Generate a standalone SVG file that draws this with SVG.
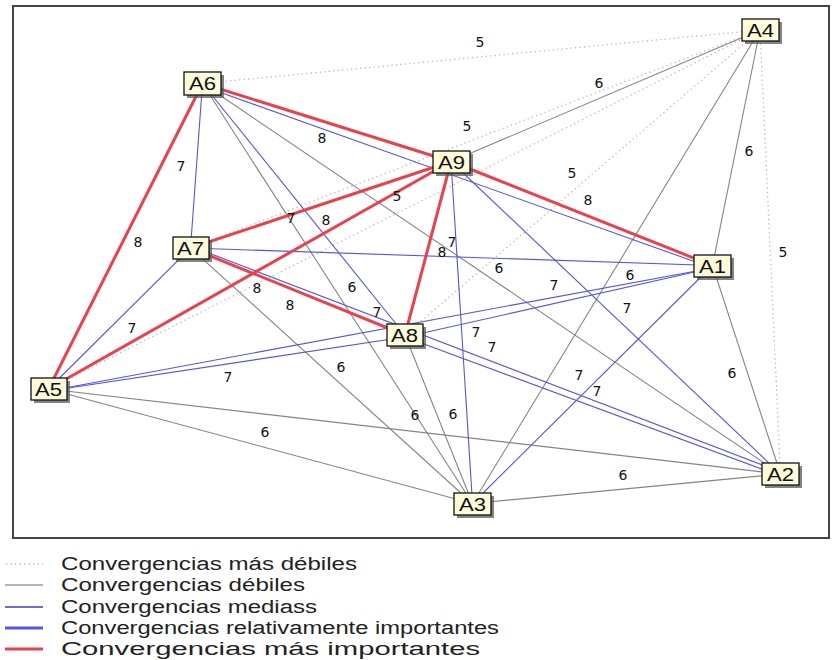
<svg xmlns="http://www.w3.org/2000/svg" width="837" height="660" viewBox="0 0 837 660">
<style>
.d{stroke:#b8b8b8;stroke-width:1.3;stroke-dasharray:1.3 3.2;fill:none}
.g{stroke:#858585;stroke-width:1.1;fill:none}
.b{stroke:#5555e0;stroke-width:1.1;fill:none}
.bb{stroke:#5555e0;stroke-width:2.6;fill:none}
.r{stroke:#e8424c;stroke-width:3;fill:none}
.lbl{font-family:"DejaVu Sans",sans-serif;font-size:14px;fill:#111;text-anchor:middle}
.box{fill:#fdfbd9;stroke:#111;stroke-width:1.3}
.sh{fill:#5a5a5a;opacity:0.75}
.nt{font-family:"Liberation Sans",Arial,sans-serif;font-size:18px;fill:#111}
.lg{font-family:"Liberation Sans",Arial,sans-serif;font-size:18px;fill:#222}
</style>
<rect x="0" y="0" width="837" height="660" fill="#ffffff"/>
<rect x="13" y="6" width="816" height="532" fill="#ffffff" stroke="#444" stroke-width="2"/>
<g id="connectors">
<!-- dotted (5) -->
<line class="d" x1="760" y1="30" x2="202.5" y2="83.5"/>
<line class="d" x1="760" y1="30" x2="190.5" y2="248"/>
<line class="d" x1="760" y1="30" x2="48.5" y2="389"/>
<line class="d" x1="760" y1="30" x2="405" y2="335"/>
<line class="d" x1="760" y1="30" x2="780.5" y2="474"/>
<!-- gray (6) -->
<line class="g" x1="760" y1="30" x2="451" y2="161.5"/>
<line class="g" x1="760" y1="30" x2="472.5" y2="503.5"/>
<line class="g" x1="760" y1="30" x2="712.5" y2="265.5"/>
<line class="g" x1="202.5" y1="83.5" x2="472.5" y2="503.5"/>
<line class="g" x1="202.5" y1="83.5" x2="780.5" y2="474"/>
<line class="g" x1="190.5" y1="248" x2="472.5" y2="503.5"/>
<line class="g" x1="405" y1="335" x2="472.5" y2="503.5"/>
<line class="g" x1="48.5" y1="389" x2="472.5" y2="503.5"/>
<line class="g" x1="48.5" y1="389" x2="780.5" y2="474"/>
<line class="g" x1="472.5" y1="503.5" x2="780.5" y2="474"/>
<line class="g" x1="712.5" y1="265.5" x2="780.5" y2="474"/>
<!-- blue (7) -->
<line class="b" x1="202.5" y1="83.5" x2="190.5" y2="248"/>
<line class="b" x1="202.5" y1="83.5" x2="405" y2="335"/>
<line class="b" x1="202.5" y1="86" x2="712.5" y2="268"/>
<line class="b" x1="451" y1="161.5" x2="472.5" y2="503.5"/>
<line class="b" x1="451" y1="161.5" x2="780.5" y2="474"/>
<line class="b" x1="190.5" y1="248" x2="712.5" y2="265.5"/>
<line class="b" x1="190.5" y1="248" x2="48.5" y2="389"/>
<line class="b" x1="190.5" y1="246" x2="780.5" y2="472"/>
<line class="b" x1="48.5" y1="391" x2="712.5" y2="268"/>
<line class="b" x1="48.5" y1="391" x2="405" y2="337"/>
<line class="b" x1="405" y1="337" x2="712.5" y2="268"/>
<line class="b" x1="405" y1="337" x2="780.5" y2="476"/>
<line class="b" x1="472.5" y1="503.5" x2="712.5" y2="265.5"/>
<!-- red (8) -->
<line class="r" x1="202.5" y1="83.5" x2="48.5" y2="389"/>
<line class="r" x1="202.5" y1="83.5" x2="451" y2="161.5"/>
<line class="r" x1="451" y1="161.5" x2="190.5" y2="248"/>
<line class="r" x1="451" y1="161.5" x2="48.5" y2="389"/>
<line class="r" x1="451" y1="161.5" x2="405" y2="335"/>
<line class="r" x1="451" y1="161.5" x2="712.5" y2="265.5"/>
<line class="r" x1="190.5" y1="248" x2="405" y2="335"/>
</g>
<g id="edge-labels">
<text class="lbl" x="480" y="47">5</text>
<text class="lbl" x="599" y="88">6</text>
<text class="lbl" x="467" y="131">5</text>
<text class="lbl" x="322" y="143">8</text>
<text class="lbl" x="181" y="171">7</text>
<text class="lbl" x="749" y="156">6</text>
<text class="lbl" x="572" y="178">5</text>
<text class="lbl" x="397" y="201">5</text>
<text class="lbl" x="588" y="205">8</text>
<text class="lbl" x="291" y="223">7</text>
<text class="lbl" x="326" y="225">8</text>
<text class="lbl" x="138" y="247">8</text>
<text class="lbl" x="452" y="247">7</text>
<text class="lbl" x="442" y="257">8</text>
<text class="lbl" x="783" y="257">5</text>
<text class="lbl" x="499" y="273">6</text>
<text class="lbl" x="630" y="280">6</text>
<text class="lbl" x="554" y="290">7</text>
<text class="lbl" x="352" y="292">6</text>
<text class="lbl" x="257" y="293">8</text>
<text class="lbl" x="290" y="310">8</text>
<text class="lbl" x="627" y="313">7</text>
<text class="lbl" x="377" y="317">7</text>
<text class="lbl" x="132" y="333">7</text>
<text class="lbl" x="476" y="337">7</text>
<text class="lbl" x="492" y="352">7</text>
<text class="lbl" x="341" y="372">6</text>
<text class="lbl" x="732" y="378">6</text>
<text class="lbl" x="579" y="380">7</text>
<text class="lbl" x="228" y="382">7</text>
<text class="lbl" x="597" y="396">7</text>
<text class="lbl" x="415" y="420">6</text>
<text class="lbl" x="453" y="419">6</text>
<text class="lbl" x="265" y="437">6</text>
<text class="lbl" x="623" y="480">6</text>
</g>
<g id="A4"><rect class="sh" x="745" y="22" width="37" height="22"/><rect class="box" x="742" y="19" width="37" height="22"/><text class="nt" x="747" y="37" textLength="27" lengthAdjust="spacingAndGlyphs">A4</text></g>
<g id="A6"><rect class="sh" x="187" y="75" width="37" height="23"/><rect class="box" x="184" y="72" width="37" height="23"/><text class="nt" x="189" y="90" textLength="27" lengthAdjust="spacingAndGlyphs">A6</text></g>
<g id="A9"><rect class="sh" x="436" y="154" width="37" height="22"/><rect class="box" x="433" y="151" width="37" height="22"/><text class="nt" x="438" y="169" textLength="27" lengthAdjust="spacingAndGlyphs">A9</text></g>
<g id="A7"><rect class="sh" x="176" y="240" width="36" height="22"/><rect class="box" x="173" y="237" width="36" height="22"/><text class="nt" x="177" y="255" textLength="27" lengthAdjust="spacingAndGlyphs">A7</text></g>
<g id="A1"><rect class="sh" x="697" y="258" width="37" height="22"/><rect class="box" x="694" y="255" width="37" height="22"/><text class="nt" x="699" y="273" textLength="27" lengthAdjust="spacingAndGlyphs">A1</text></g>
<g id="A8"><rect class="sh" x="390" y="327" width="36" height="22"/><rect class="box" x="387" y="324" width="36" height="22"/><text class="nt" x="391" y="342" textLength="27" lengthAdjust="spacingAndGlyphs">A8</text></g>
<g id="A5"><rect class="sh" x="34" y="381" width="36" height="22"/><rect class="box" x="31" y="378" width="36" height="22"/><text class="nt" x="35" y="396" textLength="27" lengthAdjust="spacingAndGlyphs">A5</text></g>
<g id="A2"><rect class="sh" x="765" y="466" width="37" height="22"/><rect class="box" x="762" y="463" width="37" height="22"/><text class="nt" x="767" y="481" textLength="27" lengthAdjust="spacingAndGlyphs">A2</text></g>
<g id="A3"><rect class="sh" x="457" y="496" width="37" height="22"/><rect class="box" x="454" y="493" width="37" height="22"/><text class="nt" x="459" y="511" textLength="27" lengthAdjust="spacingAndGlyphs">A3</text></g>
<g id="legend">
<line class="d" x1="6" y1="564" x2="43" y2="564"/>
<line x1="5" y1="585" x2="43" y2="585" stroke="#6a6a6a" stroke-width="1.2"/>
<line x1="5" y1="607" x2="43" y2="607" stroke="#3a3ad8" stroke-width="1.3"/>
<line x1="5" y1="628" x2="43" y2="628" stroke="#5555e0" stroke-width="3"/>
<line x1="5" y1="649" x2="43" y2="649" stroke="#e8424c" stroke-width="3"/>
<text class="lg" x="61" y="570" textLength="296" lengthAdjust="spacingAndGlyphs">Convergencias más débiles</text>
<text class="lg" x="61" y="591" textLength="244" lengthAdjust="spacingAndGlyphs">Convergencias débiles</text>
<text class="lg" x="61" y="613" textLength="256" lengthAdjust="spacingAndGlyphs">Convergencias mediass</text>
<text class="lg" x="61" y="634" textLength="438" lengthAdjust="spacingAndGlyphs">Convergencias relativamente importantes</text>
<text class="lg" x="61" y="655" textLength="419" lengthAdjust="spacingAndGlyphs">Convergencias más importantes</text>
</g>
</svg>
